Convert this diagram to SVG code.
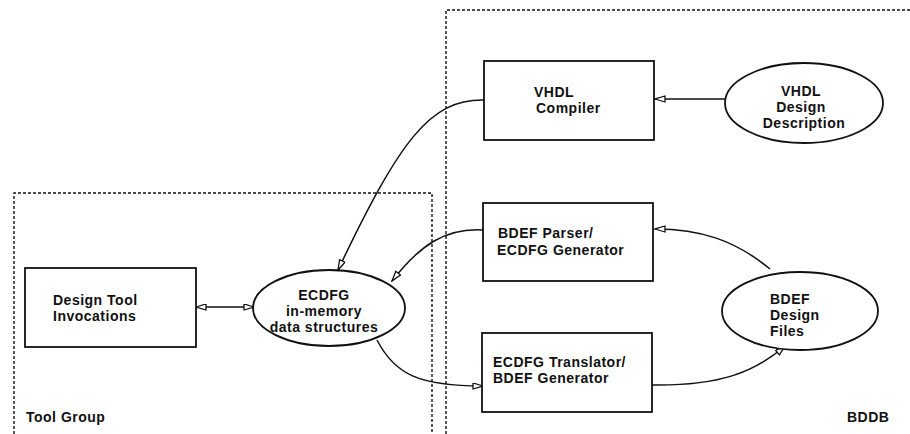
<svg xmlns="http://www.w3.org/2000/svg" width="910" height="434" viewBox="0 0 910 434">
<style>
text{font-family:"Liberation Sans",Arial,sans-serif;font-weight:bold;font-size:14px;letter-spacing:0.5px;fill:#111}
.box{fill:#fff;stroke:#111;stroke-width:1.8}
.grp{fill:none;stroke:#111;stroke-width:1.4;stroke-dasharray:3 2}
.con{fill:none;stroke:#111;stroke-width:1.5}
.mid{text-anchor:middle}
</style>
<defs>
<marker id="ah" markerWidth="12" markerHeight="8" refX="11" refY="3.5" orient="auto" markerUnits="userSpaceOnUse">
<path d="M11,3.5 L1,0.5 L1,6.5 Z" fill="#fff" stroke="#111" stroke-width="1.3"/>
</marker>
<marker id="ahs" markerWidth="12" markerHeight="8" refX="1" refY="3.5" orient="auto" markerUnits="userSpaceOnUse">
<path d="M1,3.5 L11,0.5 L11,6.5 Z" fill="#fff" stroke="#111" stroke-width="1.3"/>
</marker>
</defs>
<g id="groups">
<path class="grp" d="M14,434 L14,193 L432,193 L432,434"/>
<path class="grp" d="M446,434 L446,10 L910,10"/>
<text x="26" y="422">Tool Group</text>
<text x="847" y="422">BDDB</text>
</g>
<g id="connectors">
<path class="con" d="M725,99 L655,99" marker-end="url(#ah)"/>
<path class="con" d="M484,100 C430,99 400,140 338,270" marker-end="url(#ah)"/>
<path class="con" d="M483,230 C445,228 420,245 392,281" marker-end="url(#ah)"/>
<path class="con" d="M196,307 L254,307" marker-start="url(#ahs)" marker-end="url(#ah)"/>
<path class="con" d="M377,340 C395,375 420,386 483,386" marker-end="url(#ah)"/>
<path class="con" d="M652,385 C720,386 755,372 785,346" marker-end="url(#ah)"/>
<path class="con" d="M770,269 C735,240 700,229 655,229" marker-end="url(#ah)"/>
</g>
<g id="design-tool">
<rect class="box" x="25" y="268" width="171" height="79"/>
<text x="53" y="305">Design Tool</text>
<text x="53" y="321">Invocations</text>
</g>
<g id="ecdfg">
<ellipse class="box" cx="329" cy="308" rx="76" ry="38"/>
<text class="mid" x="324" y="300">ECDFG</text>
<text class="mid" x="324" y="316">in-memory</text>
<text class="mid" x="324" y="332">data structures</text>
</g>
<g id="vhdl-compiler">
<rect class="box" x="484" y="61" width="170" height="79"/>
<text x="534" y="97">VHDL</text>
<text x="536" y="113">Compiler</text>
</g>
<g id="vhdl-design">
<ellipse class="box" cx="804" cy="103" rx="79" ry="40"/>
<text class="mid" x="801" y="96">VHDL</text>
<text class="mid" x="801" y="112">Design</text>
<text class="mid" x="804" y="128">Description</text>
</g>
<g id="bdef-parser">
<rect class="box" x="483" y="203" width="170" height="78"/>
<text x="498" y="238">BDEF Parser/</text>
<text x="497" y="255">ECDFG Generator</text>
</g>
<g id="ecdfg-translator">
<rect class="box" x="482" y="333" width="170" height="79"/>
<text x="493" y="367">ECDFG Translator/</text>
<text x="493" y="383">BDEF Generator</text>
</g>
<g id="bdef-files">
<ellipse class="box" cx="800" cy="311" rx="78" ry="39"/>
<text x="770" y="304">BDEF</text>
<text x="770" y="320">Design</text>
<text x="770" y="336">Files</text>
</g>
</svg>
